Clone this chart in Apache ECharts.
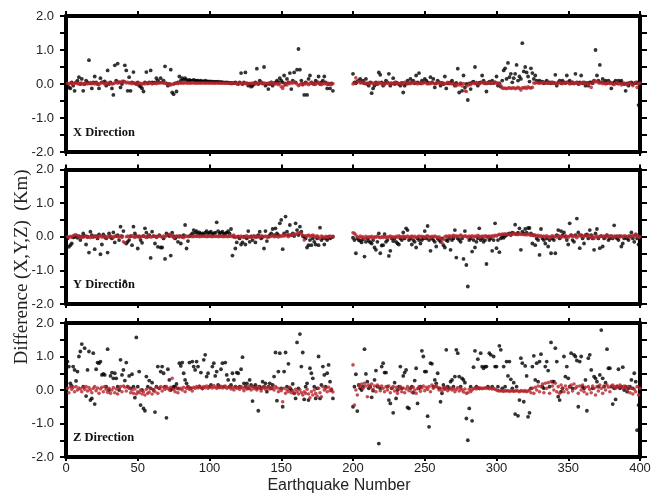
<!DOCTYPE html>
<html><head><meta charset="utf-8">
<script src="https://cdn.jsdelivr.net/npm/echarts@6/dist/echarts.min.js"></script>
<style>html,body{margin:0;padding:0;background:#fff}#c{width:661px;height:496px}</style>
</head><body><div id="c"></div>
<script>
// Earthquake numbers: segment A starts at 1, segment B starts at 200
const startA = 1;
const startB = 200;
const xTickValues = [0,50,100,150,200,250,300,350,400];
const panelNames = ['X Direction','Y Direction','Z Direction'];

// ---- X direction ----
const xBlackA = [
-0.05,-0.1,-0.13,0.05,-0.05,-0.2,0.05,0.1,0.2,0.0,
0.15,-0.2,0.0,0.1,0.05,0.7,0.02,-0.13,0.05,0.22,
0.05,0.0,-0.13,0.17,0.05,0.05,0.08,-0.05,0.4,0.0,
0.05,-0.13,-0.32,0.55,0.1,0.6,0.05,-0.1,0.0,0.08,
0.55,0.4,-0.2,0.2,-0.2,0.05,0.35,0.02,0.0,0.05,
-0.05,-0.08,-0.13,-0.22,0.05,0.35,0.02,0.05,0.4,0.05,
0.03,0.05,0.17,0.1,0.05,0.17,0.05,0.1,0.52,0.02,
-0.05,0.0,0.42,-0.25,-0.3,0.02,-0.22,0.05,0.22,0.1,
0.17,0.12,0.17,0.12,0.1,0.12,0.1,0.1,0.12,0.1,
0.1,0.1,0.08,0.1,0.08,0.08,0.1,0.08,0.08,0.07,
0.08,0.06,0.07,0.06,0.06,0.07,0.05,0.06,0.05,0.05,
0.04,0.05,0.04,0.03,0.03,0.02,0.03,0.05,0.02,0.0,
0.05,0.32,0.0,0.05,0.34,0.02,-0.05,0.0,-0.08,-0.05,
0.0,0.05,0.45,0.0,0.1,0.05,0.02,0.5,-0.05,0.0,
-0.15,0.0,0.05,-0.05,0.02,0.05,0.1,0.05,0.17,0.1,
0.05,0.25,0.0,0.15,0.05,0.32,-0.15,0.1,0.34,0.05,
0.42,1.03,0.42,0.1,0.0,-0.32,0.05,-0.32,0.15,0.25,
0.05,0.02,0.0,0.1,0.05,0.22,0.0,0.05,0.1,0.22,
0.05,-0.13,0.0,-0.13,0.02,-0.2];
const xRedA = [
0.02,0.0,0.03,0.01,-0.01,0.02,0.04,0.01,0.0,0.03,
0.02,-0.01,0.01,0.03,0.0,0.02,0.04,0.01,0.02,0.0,
0.03,0.01,-0.02,0.02,0.05,0.03,0.0,0.01,0.02,0.04,
0.02,0.0,0.01,0.03,0.05,0.02,0.06,0.04,0.08,0.05,
0.07,0.03,0.05,0.02,0.04,0.01,0.03,0.02,0.0,0.03,
0.01,0.02,-0.01,0.02,0.0,0.03,0.01,0.04,0.02,0.0,
0.02,0.03,0.01,0.02,0.04,0.03,0.05,0.02,0.03,0.01,
0.0,-0.02,-0.03,0.0,-0.01,0.02,0.03,0.01,0.04,0.02,
0.03,0.02,0.04,0.03,0.02,0.03,0.02,0.04,0.03,0.02,
0.03,0.02,0.03,0.02,0.03,0.03,0.02,0.03,0.02,0.03,
0.02,0.03,0.02,0.02,0.03,0.02,0.03,0.02,0.02,0.03,
0.02,0.02,0.03,0.02,0.01,0.02,0.03,0.02,0.01,0.02,
0.03,0.01,0.02,0.03,0.01,0.02,0.0,0.02,0.01,0.03,
0.02,0.0,0.03,0.01,0.02,0.04,0.01,0.03,0.02,0.0,
0.03,0.02,0.05,0.01,0.03,0.0,0.02,-0.02,0.01,-0.08,
-0.13,-0.05,0.02,-0.03,0.04,0.01,0.05,0.02,0.06,0.03,
0.0,-0.05,-0.02,0.01,-0.03,0.02,0.0,0.03,-0.02,0.01,
0.04,0.0,0.02,-0.01,0.03,0.05,0.01,-0.02,0.02,0.0,
0.03,-0.01,0.02,0.0,-0.02,0.01];
const xBlackB = [
0.3,0.05,0.02,0.08,0.1,0.15,0.05,0.1,0.02,0.15,
0.0,-0.05,0.05,-0.27,-0.13,-0.05,0.05,0.0,0.34,0.27,
0.05,-0.05,0.02,0.1,0.05,0.3,-0.05,0.02,0.17,0.0,
0.05,0.02,0.0,-0.05,0.03,-0.25,-0.05,0.02,0.1,0.02,
0.15,0.05,0.1,0.02,0.25,0.05,0.32,0.02,0.1,0.05,
0.15,0.1,0.05,0.02,0.2,0.05,0.15,-0.1,0.02,0.1,
0.05,-0.05,0.03,0.0,0.22,-0.13,0.02,0.02,0.05,0.1,
0.02,-0.05,0.03,0.45,-0.25,0.02,-0.2,0.25,-0.1,0.0,
-0.47,0.02,-0.15,0.05,0.07,0.5,0.02,-0.05,0.03,0.05,
0.25,0.1,0.02,-0.22,0.03,0.07,0.02,0.1,0.03,0.05,
0.22,-0.05,0.02,-0.08,0.1,0.4,0.46,0.15,0.62,0.2,
0.3,0.05,0.17,0.3,0.56,0.1,0.22,0.15,1.2,0.37,
0.5,0.34,0.22,0.07,0.46,0.32,0.15,0.25,0.1,0.05,
0.1,0.05,0.07,0.02,0.05,0.1,0.03,0.05,0.02,0.05,
0.03,0.27,-0.05,0.05,0.1,0.02,0.1,0.05,0.03,0.25,
0.05,0.1,0.02,0.05,0.02,0.3,0.05,0.0,0.05,0.25,
0.02,0.05,-0.05,0.03,-0.05,0.05,0.05,0.02,0.1,1.0,
0.25,0.1,0.56,0.05,0.15,0.05,0.1,0.02,0.1,0.05,
-0.13,0.02,0.05,0.1,0.02,0.1,0.05,0.1,0.02,0.0,
-0.2,0.02,-0.05,0.03,0.05,0.0,0.02,0.03,0.05,-0.62,
-0.05];
const xRedB = [
0.0,0.02,0.18,0.05,0.08,0.03,0.05,0.02,0.04,0.01,
0.03,0.0,0.02,0.04,0.01,0.03,0.0,0.02,0.05,0.01,
0.03,0.0,-0.02,0.02,0.04,0.01,0.03,0.0,0.02,0.05,
0.01,0.03,0.0,0.02,-0.01,0.03,0.05,0.02,0.0,0.03,
0.01,0.04,0.02,0.05,0.03,0.0,0.02,0.04,0.01,0.03,
0.05,0.02,0.0,0.03,0.01,0.04,0.02,0.0,0.03,0.05,
0.02,0.04,0.01,0.03,0.0,0.02,0.05,0.01,0.03,0.0,
0.02,-0.02,-0.05,0.0,-0.03,0.02,-0.06,0.01,-0.2,-0.22,
-0.05,0.0,-0.02,0.02,0.03,0.01,0.04,0.02,0.0,0.03,
0.05,0.02,0.04,0.01,0.03,0.05,0.02,0.04,0.03,0.05,
0.02,0.03,0.0,-0.05,-0.12,-0.13,-0.12,-0.14,-0.12,-0.11,
-0.13,-0.12,-0.11,-0.14,-0.12,-0.1,-0.13,-0.18,-0.11,-0.12,
-0.1,-0.13,-0.08,-0.11,-0.12,-0.1,0.03,0.02,0.05,0.03,
0.02,0.04,0.03,0.05,0.02,0.03,0.04,0.02,0.05,0.03,
0.04,0.02,0.0,0.03,0.05,0.02,0.01,0.04,0.02,0.06,
0.03,0.0,0.02,0.05,0.01,0.03,0.04,0.02,0.0,0.03,
0.05,0.02,0.04,0.0,-0.03,0.02,-0.1,0.03,0.1,0.06,
0.08,0.04,0.02,0.05,0.01,0.03,0.0,0.02,0.04,0.01,
0.03,0.0,-0.02,0.02,0.04,0.0,0.02,-0.03,0.01,0.03,
0.0,-0.02,0.02,0.04,0.0,-0.05,0.02,0.05,-0.1,0.0,
0.03];

// ---- Y direction ----
const yBlackA = [
-0.05,-0.3,-0.25,-0.2,-0.02,0.0,0.02,-0.03,0.02,-0.1,
0.0,0.1,0.02,-0.23,0.0,-0.47,0.15,0.05,0.0,-0.37,
0.02,-0.05,0.07,-0.52,-0.23,0.07,0.0,-0.05,-0.47,0.1,
0.0,-0.05,0.13,-0.17,0.02,0.05,-0.1,0.3,0.02,0.17,
-1.33,-0.2,-0.15,-0.1,0.02,-0.25,0.3,0.1,0.02,-0.35,
0.0,-0.1,-0.18,0.02,0.25,0.12,0.0,0.05,-0.63,0.15,
0.02,-0.2,0.0,-0.3,0.05,-0.32,-0.32,-0.05,-0.66,0.1,
0.05,0.02,-0.56,0.12,0.02,-0.05,0.0,-0.15,0.02,-0.2,
0.0,0.05,0.35,-0.35,-0.13,0.02,0.05,0.1,0.2,0.12,
0.17,0.1,0.13,0.08,0.1,0.07,0.12,0.17,0.1,0.12,
0.15,0.08,0.1,0.12,0.43,0.17,0.1,0.12,0.15,0.08,
0.1,0.12,0.17,0.1,0.23,-0.56,0.0,-0.35,-0.17,0.0,
-0.05,-0.23,-0.17,0.0,-0.23,-0.05,0.17,-0.15,0.0,-0.1,
0.02,-0.17,0.0,0.05,0.15,-0.05,0.0,-0.35,0.17,-0.13,
0.0,0.05,0.1,0.23,0.05,0.25,0.1,0.05,0.4,0.5,
-0.37,0.1,0.6,0.15,0.05,0.35,0.05,0.1,0.02,0.4,
0.2,0.05,0.3,0.15,0.02,0.0,-0.05,-0.32,-0.25,-0.1,
-0.25,-0.05,-0.15,-0.23,-0.05,-0.25,0.27,-0.1,-0.05,-0.23,
-0.05,-0.1,0.0,-0.05,-0.02,0.0];
const yRedA = [
0.0,-0.02,0.01,-0.01,0.03,0.05,0.06,0.02,0.0,-0.02,
0.01,-0.01,0.0,0.02,-0.02,0.0,-0.03,0.01,-0.01,0.02,
0.0,-0.02,0.01,0.03,-0.01,0.0,0.02,-0.03,0.01,-0.01,
0.02,0.0,-0.02,0.01,0.03,0.0,-0.01,0.02,-0.02,-0.15,
-0.18,0.0,0.02,-0.01,0.01,0.03,0.0,-0.02,0.01,0.0,
0.02,-0.01,0.01,0.03,0.0,-0.02,0.01,0.02,-0.01,0.0,
0.02,0.01,-0.02,0.0,0.03,0.01,-0.01,0.02,0.0,0.03,
0.05,0.07,0.04,0.01,-0.02,0.0,0.02,0.01,-0.01,0.02,
0.0,-0.03,0.01,0.02,0.0,0.01,0.02,0.0,0.01,0.02,
0.01,0.02,0.0,0.01,0.02,0.01,0.02,0.0,0.01,0.02,
0.01,0.0,0.02,0.01,0.02,0.0,0.01,0.02,0.01,0.0,
0.02,0.01,0.0,0.02,0.01,0.03,0.05,-0.02,0.0,0.01,
-0.01,0.02,0.0,-0.02,0.01,0.03,0.0,-0.01,0.02,0.0,
0.01,-0.02,0.02,0.0,-0.01,0.03,0.01,0.0,0.02,-0.01,
0.01,0.0,0.02,0.03,0.0,0.01,0.02,-0.01,0.03,0.01,
0.04,0.02,0.05,0.03,0.0,0.04,0.06,0.05,0.08,0.07,
0.09,0.11,0.12,0.08,0.04,-0.1,0.03,0.02,0.05,0.01,
0.03,0.05,0.02,-0.01,0.03,0.0,-0.05,0.02,0.0,-0.04,
0.01,-0.02,0.0,0.02,-0.01,0.01];
const yBlackB = [
-0.03,-0.1,-0.49,-0.05,-0.1,-0.12,-0.17,-0.08,-0.59,-0.15,
-0.05,-0.12,-0.17,-0.2,-0.1,-0.32,-0.39,-0.15,0.1,-0.49,
-0.26,-0.25,0.08,-0.15,-0.1,-0.57,-0.42,-0.05,-0.13,-0.05,
-0.15,-0.2,-0.23,-0.05,-0.1,0.13,-0.05,0.25,0.2,-0.1,
-0.05,-0.23,-0.1,-0.15,-0.32,-0.05,-0.1,-0.2,-0.1,-0.05,
0.17,-0.05,0.32,-0.1,-0.42,-0.05,-0.1,-0.15,-0.29,-0.05,
-0.1,-0.15,-0.05,-0.25,-0.32,-0.1,-0.13,-0.05,-0.39,-0.1,
-0.05,0.2,-0.62,-0.05,-0.1,-0.15,-0.05,-0.66,0.17,-0.84,
-1.48,-0.1,-0.05,-0.44,-0.1,-0.32,-0.15,-0.05,0.25,-0.1,
-0.05,-0.15,-0.1,-0.81,0.0,-0.1,-0.05,-0.42,-0.1,0.4,
-0.34,-0.1,-0.46,-0.05,0.0,-0.03,0.02,0.05,0.08,0.1,
0.05,0.12,0.1,0.36,0.08,0.12,0.25,-0.39,0.15,0.1,
0.23,0.12,0.26,0.26,0.1,-0.2,0.05,-0.25,-0.05,-0.1,
-0.54,0.23,-0.05,-0.1,-0.2,-0.05,-0.29,-0.1,-0.49,-0.05,
-0.1,-0.49,0.05,0.2,-0.05,0.17,0.05,0.13,0.0,-0.1,
-0.23,0.4,0.05,-0.1,-0.15,0.05,0.54,0.13,-0.34,0.05,
-0.05,-0.2,0.05,0.07,-0.05,0.2,0.05,-0.05,-0.39,0.1,
0.23,-0.05,-0.34,0.02,-0.29,-0.05,0.0,0.05,-0.1,-0.05,
0.02,-0.05,0.34,0.0,-0.05,-0.1,0.02,-0.29,-0.2,-0.05,
0.0,-0.05,-0.1,0.02,0.13,-0.05,-0.15,0.05,-0.05,-0.23,
0.47];
const yRedB = [
0.12,0.1,0.05,0.0,-0.03,0.02,-0.02,0.0,-0.05,0.01,
-0.03,0.0,-0.02,0.01,-0.04,0.0,-0.02,0.02,-0.01,-0.03,
0.0,-0.02,0.01,-0.03,0.0,-0.01,0.02,-0.02,0.0,-0.03,
0.01,-0.01,0.03,0.0,-0.02,0.02,0.0,-0.01,0.02,-0.02,
0.0,0.02,-0.01,0.01,-0.03,0.0,0.02,-0.01,0.01,0.0,
-0.02,0.01,0.03,0.0,-0.02,0.01,-0.01,0.02,0.0,-0.03,
0.0,-0.05,-0.18,-0.08,0.0,0.02,-0.01,0.03,0.0,0.02,
0.04,0.01,0.03,0.0,0.02,0.05,0.02,0.0,0.03,0.01,
-0.02,0.02,0.0,0.03,-0.01,0.02,0.0,0.04,0.01,-0.01,
0.02,0.0,0.03,0.01,-0.02,0.02,0.0,0.03,0.01,0.04,
0.02,0.05,0.07,0.06,0.08,0.07,0.09,0.06,0.08,0.07,
0.06,0.08,0.1,0.07,0.08,0.06,0.09,0.07,0.08,0.06,
0.07,0.05,0.08,0.06,0.04,0.05,0.03,0.05,0.02,0.04,
0.01,0.03,0.0,0.02,-0.01,0.03,0.0,-0.02,0.01,0.03,
0.0,0.02,-0.01,0.03,0.01,-0.02,0.02,0.0,0.03,0.01,
-0.02,0.02,0.04,0.0,0.03,0.01,-0.03,0.02,0.05,0.01,
0.03,0.0,0.04,0.02,0.05,0.01,-0.02,0.03,-0.05,0.0,
0.02,-0.02,0.01,0.03,0.0,0.02,-0.01,0.04,0.0,0.02,
0.01,-0.02,0.02,0.0,0.03,0.01,-0.01,0.02,0.0,0.03,
0.01,0.0,0.02,-0.01,0.0,0.04,0.02,0.08,0.05,-0.02,
0.0];

// ---- Z direction ----
const zBlackA = [
0.85,0.7,0.2,0.12,0.7,0.6,0.27,0.55,1.0,1.15,
1.37,0.1,1.25,-0.18,0.6,1.15,-0.3,-0.25,1.1,-0.42,
0.62,0.82,0.8,0.85,0.45,0.48,0.45,0.1,1.22,0.0,
0.42,0.52,0.35,0.5,0.35,0.1,0.0,0.9,0.45,0.6,
0.28,0.82,0.1,0.42,0.05,0.47,0.1,-0.23,1.57,0.1,
0.55,-0.45,0.0,-0.55,-0.62,0.4,0.1,0.28,0.05,0.22,
0.0,-0.66,0.1,0.7,0.05,0.55,0.7,0.5,0.1,-0.83,
0.62,0.3,0.0,0.05,0.1,0.1,0.18,0.05,0.8,0.72,
0.82,0.5,0.3,0.2,0.1,0.82,0.05,0.85,0.7,0.6,
0.85,0.7,0.1,0.52,0.05,0.9,1.05,0.4,0.5,0.1,
0.15,0.7,0.8,0.42,0.55,0.15,0.1,0.62,0.8,0.1,
0.82,0.45,0.3,0.1,0.15,0.5,0.3,0.1,0.52,0.5,
0.1,0.62,0.98,0.2,0.1,0.2,0.05,0.3,0.15,-0.33,
0.1,0.15,0.05,-0.62,0.1,0.05,0.25,0.1,0.2,-0.05,
0.1,0.2,0.05,0.15,0.4,1.12,-0.32,0.55,1.1,0.05,
-0.5,0.55,1.12,0.1,0.78,0.05,0.0,0.18,-0.1,-0.25,
1.42,0.05,1.67,0.7,1.12,-0.28,0.1,0.2,-0.3,0.65,
0.5,0.35,0.1,-0.25,0.05,1.0,-0.25,0.15,0.7,0.45,
0.1,0.5,0.75,0.25,0.0,-0.25];
const zRedA = [
0.05,-0.08,0.1,0.02,0.08,-0.05,0.1,0.0,0.06,0.03,
-0.05,0.08,0.02,0.1,-0.03,0.07,0.0,-0.08,0.05,0.1,
-0.02,0.06,-0.1,0.03,0.08,-0.05,0.1,0.02,-0.07,0.05,
-0.1,0.0,0.07,-0.08,0.03,-0.12,0.05,0.1,-0.05,0.12,
0.08,-0.03,0.1,0.05,-0.08,0.0,-0.1,0.03,-0.12,-0.05,
-0.08,0.0,-0.12,-0.05,-0.15,0.02,-0.1,-0.06,0.05,-0.12,
0.0,-0.05,0.08,-0.1,0.05,0.1,-0.03,0.08,0.02,0.1,
0.05,0.0,0.08,0.35,0.02,-0.05,0.06,-0.08,0.03,0.05,
0.0,0.08,-0.05,0.05,0.1,0.02,0.06,-0.03,0.08,0.05,
0.1,0.06,0.12,0.08,0.04,0.1,0.07,0.12,0.05,0.09,
0.1,0.06,0.13,0.08,0.05,0.1,0.07,0.11,0.06,0.09,
0.12,0.05,0.08,0.1,0.03,0.07,0.0,0.1,0.05,0.08,
0.02,0.1,0.06,-0.02,0.08,0.03,0.12,0.05,0.0,0.1,
0.04,0.08,0.0,0.1,0.05,-0.03,0.07,0.1,0.02,0.06,
0.1,0.03,0.08,0.05,0.0,0.1,0.06,-0.05,0.04,-0.02,
-0.35,0.05,-0.1,0.0,-0.05,0.08,-0.08,-0.03,-0.1,0.02,
-0.05,-0.12,0.0,-0.08,-0.15,-0.05,-0.1,0.02,-0.12,-0.23,
-0.05,-0.15,0.0,-0.1,-0.18,0.05,-0.08,-0.2,0.1,0.0,
0.05,-0.05,0.08,-0.02,0.03,-0.06];
const zBlackB = [
-0.5,0.1,0.47,-0.63,0.15,0.05,0.0,0.1,1.22,0.48,
0.25,0.05,0.1,-0.22,-0.02,0.3,0.58,0.1,-1.6,0.05,
0.7,0.8,0.52,0.52,0.1,-0.3,-0.4,0.05,-0.68,0.22,
-0.25,0.0,0.1,0.7,0.05,0.42,0.52,0.6,-0.52,-0.55,
0.05,0.1,-0.08,0.28,0.65,-0.4,0.05,0.1,1.17,1.0,
0.55,0.55,-0.78,-1.1,0.8,0.78,0.1,0.3,0.2,0.5,
0.05,-0.35,-0.1,0.15,0.05,1.2,0.1,0.05,0.25,0.3,
0.1,0.4,1.2,1.1,0.4,0.1,0.35,0.3,0.22,-0.85,
-1.5,-0.55,0.1,-0.92,0.68,1.17,0.1,0.92,0.05,1.1,
0.7,0.65,0.7,0.7,0.1,1.1,1.05,0.1,1.0,0.7,
0.7,0.1,1.32,1.2,0.05,0.7,0.1,0.85,0.42,0.85,
0.32,0.05,0.22,-0.72,0.1,-0.77,-0.3,0.95,0.8,-0.35,
0.72,0.42,-0.8,-0.68,0.05,0.7,1.02,0.3,0.8,0.25,
0.85,1.07,0.1,0.05,0.7,0.85,0.58,0.1,1.42,0.25,
0.25,1.25,0.85,-0.2,-0.3,-0.05,0.05,1.0,0.4,0.7,
0.35,0.1,1.1,0.05,1.05,1.0,0.88,-0.5,0.85,1.0,
0.1,0.05,0.3,-0.62,0.95,1.05,0.6,0.05,0.4,0.35,
0.25,0.1,0.45,1.79,0.35,0.1,0.22,1.22,0.65,0.65,
0.1,-0.42,0.05,-0.28,0.1,0.62,0.05,0.1,0.68,0.0,
0.1,-0.05,0.05,0.1,0.3,0.05,0.5,0.25,-1.2,-0.45,
-0.15];
const zRedB = [
0.75,-0.45,0.0,-0.15,0.15,0.1,0.18,0.05,0.2,0.12,
-0.2,0.15,0.08,0.18,0.02,0.12,-0.05,0.15,0.1,-0.02,
0.12,0.05,-0.05,0.1,0.0,0.12,-0.08,0.05,0.1,-0.03,
0.08,-0.1,0.02,0.1,-0.05,0.06,-0.08,0.03,0.1,-0.02,
0.05,-0.06,0.08,0.0,-0.1,0.04,0.1,-0.04,0.06,0.12,
-0.02,0.08,0.02,0.1,-0.05,0.15,0.05,0.1,0.12,0.08,
0.0,0.05,-0.03,0.06,0.02,0.08,-0.02,0.03,0.06,0.0,
0.04,-0.05,0.02,0.07,-0.03,0.05,0.0,-0.06,0.03,-0.1,
-0.08,0.02,-0.05,0.0,0.04,0.06,0.03,0.07,0.05,0.06,
0.04,0.06,0.05,0.07,0.05,0.04,0.06,0.03,0.05,0.02,
0.0,-0.02,-0.03,-0.02,-0.03,-0.04,-0.02,-0.03,-0.02,-0.04,
-0.03,-0.02,-0.04,-0.03,-0.02,-0.03,-0.05,-0.02,-0.03,-0.04,
-0.02,-0.05,-0.03,0.0,-0.08,0.05,-0.1,0.08,0.0,0.12,
-0.05,0.1,0.18,-0.08,0.2,0.05,0.22,-0.1,0.25,0.12,
0.0,0.2,-0.05,0.1,-0.1,0.15,0.05,-0.05,0.12,0.02,
-0.08,0.1,0.15,-0.03,0.18,0.05,0.1,-0.1,0.12,0.0,
0.15,-0.05,0.08,-0.12,0.1,0.02,-0.08,0.12,0.05,-0.15,
0.1,-0.03,0.15,0.05,-0.1,0.12,0.0,0.15,0.08,-0.05,
0.12,0.15,0.1,0.05,0.12,0.08,0.15,0.1,0.05,0.12,
0.08,0.0,0.1,-0.08,0.05,-0.12,0.02,-0.05,0.1,-0.15,
0.05];

function pts(start, arr){ return arr.map((v,i)=>[start+i, v]); }

const panels = [
  {black: pts(startA,xBlackA).concat(pts(startB,xBlackB)), red: pts(startA,xRedA).concat(pts(startB,xRedB))},
  {black: pts(startA,yBlackA).concat(pts(startB,yBlackB)), red: pts(startA,yRedA).concat(pts(startB,yRedB))},
  {black: pts(startA,zBlackA).concat(pts(startB,zBlackB)), red: pts(startA,zRedA).concat(pts(startB,zRedB))}
];

const gridTops = [16, 169.5, 323];
const gridHeights = [136, 134.5, 134];
const labelFont = 'Liberation Sans';
const grids = [], xAxes = [], yAxes = [], series = [], graphics = [];

for (let i = 0; i < 3; i++) {
  grids.push({left: 66, right: 21, top: gridTops[i], height: gridHeights[i], containLabel: false});
  const lineStyle = {color: '#000', width: 4};
  xAxes.push({gridIndex: i, type: 'value', min: 0, max: 400, interval: 50, position: 'bottom',
    axisLine: {show: true, onZero: false, lineStyle},
    axisTick: {show: true, length: 4, lineStyle: {color: '#000', width: 2}},
    axisLabel: {show: i === 2, margin: 5, color: '#222', fontFamily: labelFont, fontSize: 13},
    splitLine: {show: false}});
  xAxes.push({gridIndex: i, type: 'value', min: 0, max: 400, interval: 50, position: 'top',
    axisLine: {show: true, onZero: false, lineStyle},
    axisTick: {show: true, length: 5, lineStyle: {color: '#000', width: 2}},
    axisLabel: {show: false}, splitLine: {show: false}});
  yAxes.push({gridIndex: i, type: 'value', min: -2, max: 2, interval: 0.5, position: 'left',
    axisLine: {show: true, onZero: false, lineStyle},
    axisTick: {show: true, length: 6, lineStyle: {color: '#000', width: 2}},
    axisLabel: {show: true, margin: 12, color: '#222', fontFamily: labelFont, fontSize: 13,
      formatter: v => (Math.round(v * 2) % 2 === 0 ? (v === 0 ? '0.0' : v.toFixed(1)) : '')},
    splitLine: {show: false}});
  yAxes.push({gridIndex: i, type: 'value', min: -2, max: 2, interval: 0.5, position: 'right',
    axisLine: {show: true, onZero: false, lineStyle},
    axisTick: {show: true, length: 7, lineStyle: {color: '#000', width: 2}},
    axisLabel: {show: false}, splitLine: {show: false}});
  series.push({type: 'scatter', xAxisIndex: i * 2, yAxisIndex: i * 2, data: panels[i].black,
    symbol: 'circle', symbolSize: 3.8, itemStyle: {color: '#000'}, silent: true, z: 2});
  series.push({type: 'scatter', xAxisIndex: i * 2, yAxisIndex: i * 2, data: panels[i].red,
    symbol: 'circle', symbolSize: 3.6, itemStyle: {color: '#b5232a'}, silent: true, z: 3});
  graphics.push({type: 'text', left: 73, top: gridTops[i] + gridHeights[i] - 26,
    style: {text: panelNames[i], font: 'bold 12.5px "Liberation Serif"', fill: '#111'}, z: 10});
}

graphics.push({type: 'text', x: 339, y: 486,
  style: {text: 'Earthquake Number', font: '16px "Liberation Sans"', fill: '#222', align: 'center', verticalAlign: 'middle'}});
graphics.push({type: 'text', x: 22, y: 267, rotation: Math.PI / 2,
  style: {text: 'Difference (X,Y,Z)  (Km)', font: '19px "Liberation Serif"', fill: '#222', align: 'center', verticalAlign: 'middle'}});

const chart = echarts.init(document.getElementById('c'), null, {renderer: 'canvas'});
chart.setOption({
  animation: false,
  backgroundColor: '#fff',
  grid: grids, xAxis: xAxes, yAxis: yAxes, series: series, graphic: graphics
});
</script>
</body></html>
